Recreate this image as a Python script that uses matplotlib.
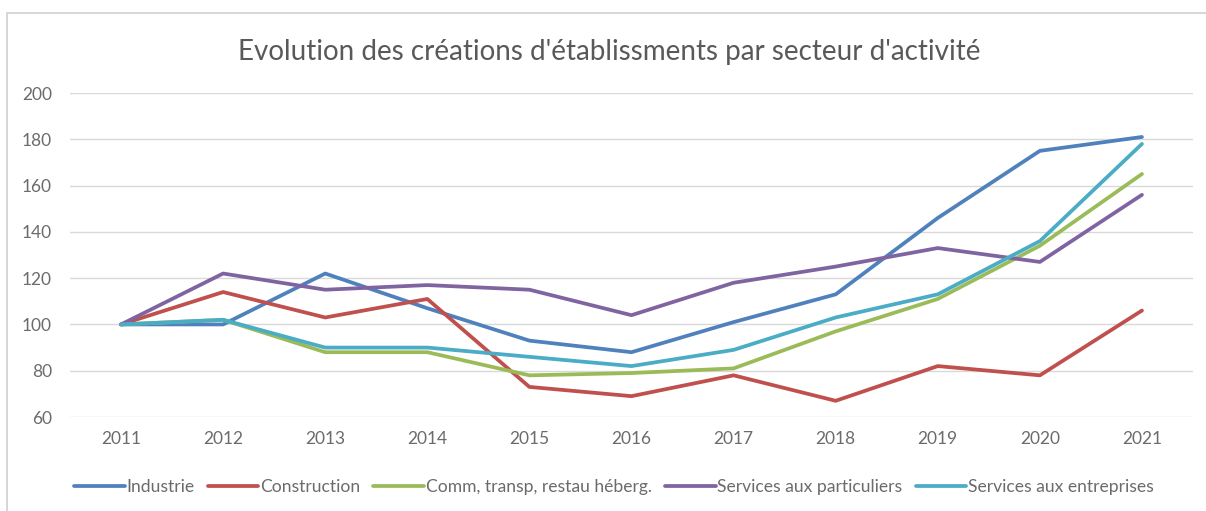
import matplotlib
matplotlib.use("Agg")
import matplotlib.pyplot as plt
from matplotlib.patches import Rectangle

# data
years = [2011, 2012, 2013, 2014, 2015, 2016, 2017, 2018, 2019, 2020, 2021]
industrie = [100, 100, 122, 107, 93, 88, 101, 113, 146, 175, 181]
construction = [100, 114, 103, 111, 73, 69, 78, 67, 82, 78, 106]
commerce = [100, 102, 88, 88, 78, 79, 81, 97, 111, 134, 165]
particuliers = [100, 122, 115, 117, 115, 104, 118, 125, 133, 127, 156]
entreprises = [100, 102, 90, 90, 86, 82, 89, 103, 113, 136, 178]

series = [
    ("Industrie", industrie, "#4F81BD"),
    ("Construction", construction, "#C0504D"),
    ("Comm, transp, restau héberg.", commerce, "#9BBB59"),
    ("Services aux particuliers", particuliers, "#8064A2"),
    ("Services aux entreprises", entreprises, "#4BACC6"),
]
y_ticks = [60, 80, 100, 120, 140, 160, 180, 200]

plt.rcParams["font.family"] = ["Lato", "DejaVu Sans"]
text_col = "#6b6b6b"

fig = plt.figure(figsize=(12.06, 5.11), dpi=100)
ax = fig.add_axes([70 / 1206, 1 - 417 / 511, 1123 / 1206, 324 / 511])

for name, vals, col in series:
    ax.plot(years, vals, color=col, lw=2.7, label=name, solid_capstyle="round")

ax.set_xlim(2010.5, 2021.5)
ax.set_ylim(60, 200)
ax.set_yticks(y_ticks)
ax.set_xticks(years)
ax.grid(axis="y", color="#d9d9d9", lw=1)
ax.set_axisbelow(True)
for s in ax.spines.values():
    s.set_visible(False)
ax.tick_params(length=0, labelsize=12.5, labelcolor=text_col)
ax.tick_params(axis="y", pad=13)
ax.tick_params(axis="x", pad=10)

fig.text(0.505, 1 - 52 / 511, "Evolution des créations d'établissments par secteur d'activité",
         ha="center", va="center", fontsize=20, color="#595959")

ax.legend(loc="center", bbox_to_anchor=(0.509, 1 - 487 / 511), bbox_transform=fig.transFigure,
          ncol=5, frameon=False, fontsize=12.6, handlelength=2.9, handletextpad=0.1,
          columnspacing=0.75, labelcolor=text_col)

fig.patches.append(Rectangle((7 / 1206, -0.1), 1.2, (511 - 13) / 511 + 0.1,
                             transform=fig.transFigure, fill=False,
                             edgecolor="#d0d0d0", lw=1.2))

fig.savefig("out.png", dpi=100, facecolor="white")
